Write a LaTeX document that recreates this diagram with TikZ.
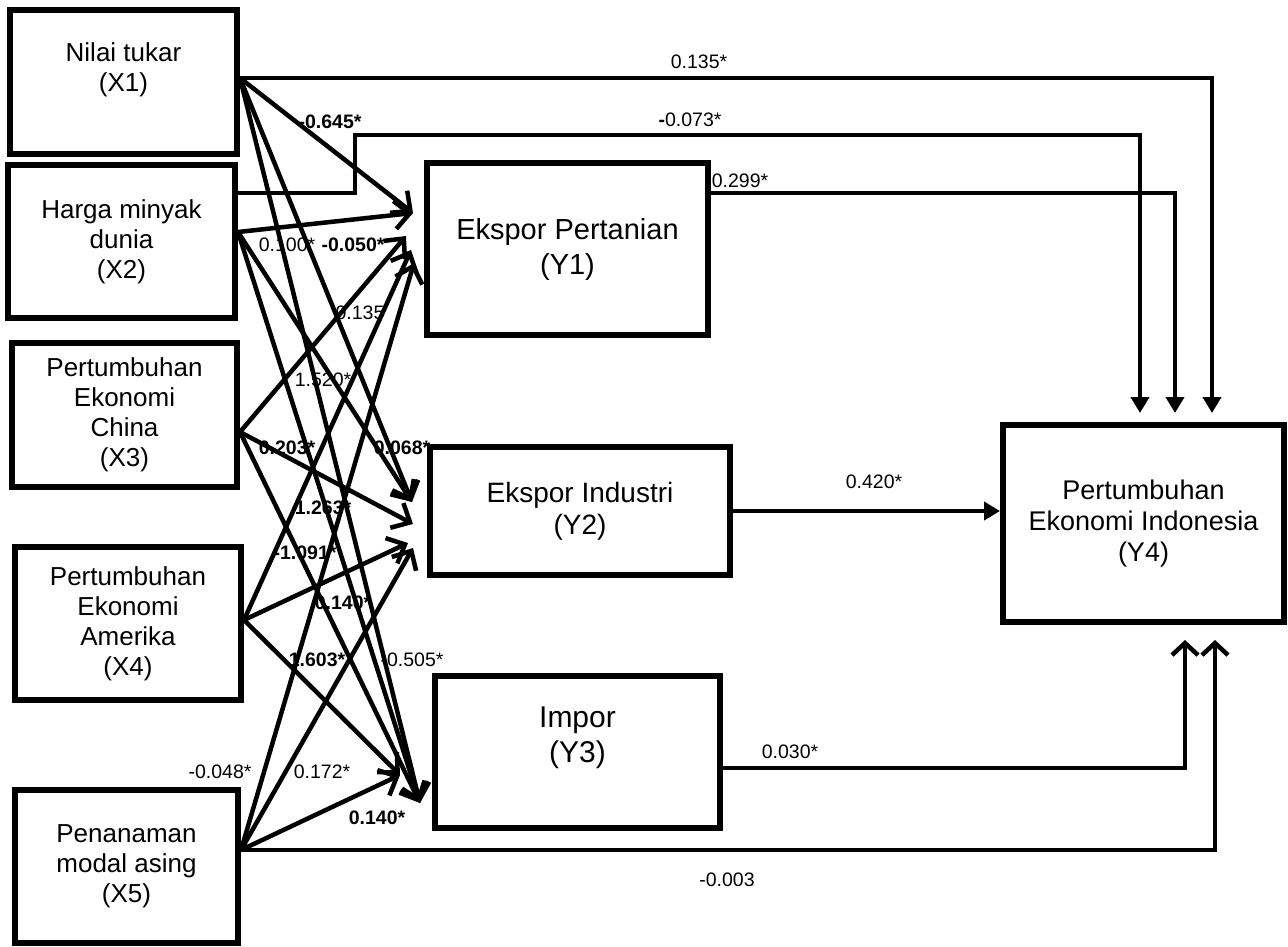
\documentclass[tikz,border=0pt]{standalone}
\usepackage{fontspec}
\setmainfont{Liberation Sans}
\usetikzlibrary{arrows.meta}
\begin{document}
\begin{tikzpicture}[x=1pt, y=-1pt,
    box/.style={draw, line width=6pt, align=center, inner sep=0pt, font=\fontsize{26}{30}\selectfont},
    bigbox/.style={box, font=\fontsize{29}{35}\selectfont},
    coef/.style={inner sep=0pt, font=\fontsize{19.5}{22}\selectfont},
    bcoef/.style={coef, font=\fontsize{19.5}{22}\selectfont\bfseries},
    fan/.style={line width=4.5pt, -{Straight Barb[length=15pt,width=28pt]}},
    feed/.style={line width=4.5pt, -{Triangle[length=16pt,width=18pt]}},
    feedup/.style={line width=4.5pt, -{Straight Barb[length=12pt,width=26pt]}}]
    \useasboundingbox (0,0) rectangle (1288,946);

    \node[box, minimum width=227pt, minimum height=144pt] (x1) at (123.5,82) {Nilai tukar\\(X1)\\};
    \node[box, minimum width=227pt, minimum height=153pt] (x2) at (121.5,241.5) {Harga minyak\\dunia\\(X2)};
    \node[box, minimum width=225pt, minimum height=144pt] (x3) at (124.5,415) {Pertumbuhan\\Ekonomi\\China\\(X3)};
    \node[box, minimum width=226pt, minimum height=153pt] (x4) at (128,623.5) {Pertumbuhan\\Ekonomi\\Amerika\\(X4)};
    \node[box, minimum width=223pt, minimum height=153pt] (x5) at (126.5,866) {Penanaman\\modal asing\\(X5)};

    \node[bigbox, minimum width=281pt, minimum height=172pt] (y1) at (567.5,249) {Ekspor Pertanian\\(Y1)};
    \node[box, minimum width=300pt, minimum height=128pt, font=\fontsize{28}{32}\selectfont] (y2) at (580,511) {Ekspor Industri\\(Y2)};
    \node[bigbox, minimum width=285pt, minimum height=152pt, font=\fontsize{30}{35}\selectfont] (y3) at (577.5,752) {Impor\\(Y3)\\};
    \node[box, minimum width=281pt, minimum height=197pt, font=\fontsize{27}{31}\selectfont] (y4) at (1143.5,523.5) {Pertumbuhan\\Ekonomi Indonesia\\(Y4)};

    \coordinate (o1) at ([yshift=4pt]x1.east);
    \coordinate (o2) at ([yshift=9.5pt]x2.east);
    \coordinate (o3) at ([yshift=-17pt]x3.east);
    \coordinate (o4) at ([yshift=3.5pt]x4.east);
    \coordinate (o5) at ([yshift=16pt]x5.east);

    \coordinate (a1) at ([xshift=-11pt, yshift=36pt]y1.west);
    \coordinate (a3) at ([xshift=-18pt, yshift=13pt]y1.west);
    \coordinate (a4) at ([xshift=-13pt, yshift=-1pt]y1.west);
    \coordinate (a5) at ([xshift=-10pt, yshift=-14pt]y1.west);
    \coordinate (b12) at ([xshift=-15pt, yshift=9pt]y2.west);
    \coordinate (b3) at ([xshift=-14pt, yshift=-13pt]y2.west);
    \coordinate (b4) at ([xshift=-19pt, yshift=-32pt]y2.west);
    \coordinate (b5) at ([xshift=-14pt, yshift=-37pt]y2.west);
    \coordinate (c123) at ([xshift=-12pt, yshift=-51pt]y3.west);
    \coordinate (c45) at ([xshift=-32pt, yshift=-23pt]y3.west);

    \foreach \src/\dst in {o1/a1, o1/b12, o1/c123, o2/a1, o2/b12, o2/c123,
        o3/a3, o3/b3, o3/c123, o4/a4, o4/b4, o4/c45, o5/a5, o5/b5, o5/c45}
        \draw[fan] (\src) -- (\dst);

    \draw[feed, shorten >=9pt] (o1) -| ([xshift=68.5pt]y4.north);
    \draw[feed, shorten >=9pt] ([yshift=48.5pt]x2.east) -| ++(117,-58) -| ([xshift=-3.5pt]y4.north);
    \draw[feed, shorten >=9pt] ([yshift=56pt]y1.east) -| ([xshift=31.5pt]y4.north);
    \draw[feed] (y2.east) -- (y2.east -| y4.west);
    \draw[feedup, shorten >=15pt] ([yshift=-16pt]y3.east) -| ([xshift=41.5pt]y4.south);
    \draw[feedup, shorten >=15pt] (o5) -| ([xshift=71.5pt]y4.south);

    \node[bcoef] (l01) at (330,122) {-0.645*};
    \node[coef] (l02) at (287,245) {0.100*};
    \node[bcoef] (l03) at (353,245) {-0.050*};
    \node[coef] (l04) at (360,313) {0.135};
    \node[coef] (l05) at (323,380) {1.520*};
    \node[bcoef] (l06) at (287,448) {0.203*};
    \node[bcoef] (l07) at (402,448) {0.068*};
    \node[bcoef] (l08) at (323,508) {1.263*};
    \node[bcoef] (l09) at (305,553) {-1.091*};
    \node[bcoef] (l10) at (343,603) {0.140*};
    \node[bcoef] (l11) at (317,660) {1.603*};
    \node[coef] (l12) at (412,660) {-0.505*};
    \node[coef] (l13) at (220,772) {-0.048*};
    \node[coef] (l14) at (322,772) {0.172*};
    \node[bcoef] (l15) at (377,818) {0.140*};

    \node[coef] (l16) at (699,62) {0.135*};
    \node[coef] (l17) at (690,120) {{\bfseries -}0.073*};
    \node[coef] (l18) at (740,181) {0.299*};
    \node[coef] (l19) at (874,482) {0.420*};
    \node[coef] (l20) at (790,752) {0.030*};
    \node[coef] (l21) at (727,880) {-0.003};
\end{tikzpicture}
\end{document}
